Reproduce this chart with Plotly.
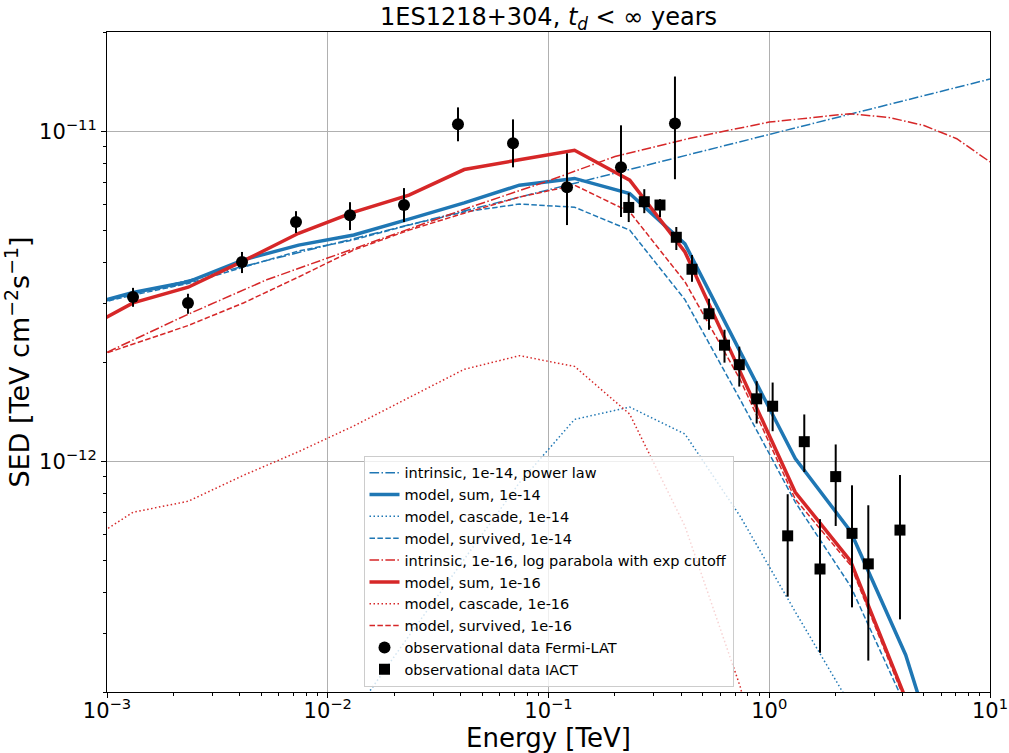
import plotly.graph_objects as go

# ---------------- data ----------------
# model energy grid [TeV]
model_E = [7.38e-4, 1.312e-3, 2.333e-3, 4.15e-3, 7.38e-3, 1.312e-2, 2.333e-2, 4.15e-2,
           7.38e-2, 0.1312, 0.2333, 0.415, 0.738, 1.312, 2.333, 4.15, 7.38]

sum_14 = [2.92e-12, 3.25e-12, 3.50e-12, 4.08e-12, 4.52e-12, 4.85e-12, 5.42e-12, 6.07e-12,
          6.87e-12, 7.20e-12, 6.48e-12, 4.56e-12, 2.15e-12, 1.02e-12, 6.14e-13, 2.59e-13, 7.6e-14]
surv_14 = [2.91e-12, 3.19e-12, 3.46e-12, 3.88e-12, 4.34e-12, 4.69e-12, 5.20e-12, 5.70e-12,
           6.02e-12, 5.89e-12, 5.02e-12, 3.09e-12, 1.54e-12, 7.52e-13, 4.19e-13, 1.81e-13, 6.27e-14]
casc_14_E = [7.38e-3, 1.312e-2, 2.333e-2, 4.15e-2, 7.38e-2, 0.1312, 0.2333, 0.415, 0.738,
             1.312, 2.333, 4.15]
casc_14 = [7.7e-14, 1.72e-13, 2.96e-13, 5.06e-13, 8.61e-13, 1.34e-12, 1.46e-12, 1.21e-12,
           6.82e-13, 3.50e-13, 1.84e-13, 9.5e-14]

sum_16 = [2.45e-12, 3.02e-12, 3.37e-12, 4.05e-12, 4.91e-12, 5.69e-12, 6.41e-12, 7.66e-12,
          8.20e-12, 8.76e-12, 7.11e-12, 4.31e-12, 1.87e-12, 8.06e-13, 4.99e-13, 1.91e-13, 5.46e-14]
surv_16 = [1.99e-12, 2.26e-12, 2.58e-12, 3.02e-12, 3.62e-12, 4.37e-12, 5.02e-12, 5.65e-12,
           6.32e-12, 6.87e-12, 5.70e-12, 3.50e-12, 1.77e-12, 7.68e-13, 4.85e-13, 1.86e-13, 5.09e-14]
casc_16_E = [7.38e-4, 1.312e-3, 2.333e-3, 4.15e-3, 7.38e-3, 1.312e-2, 2.333e-2, 4.15e-2,
             7.38e-2, 0.1312, 0.2333, 0.415, 0.738, 1.312]
casc_16 = [5.47e-13, 7.01e-13, 7.57e-13, 9.07e-13, 1.07e-12, 1.28e-12, 1.56e-12, 1.90e-12,
           2.09e-12, 1.94e-12, 1.39e-12, 6.36e-13, 2.08e-13, 4.75e-14]

# intrinsic spectra
intr_14_E = [1e-3, 1e-2, 0.1, 1.0, 10.0]
intr_14 = [3.07e-12, 4.52e-12, 6.65e-12, 9.80e-12, 1.44e-11]
intr_16_E = [1e-3, 2.30e-3, 5.29e-3, 1.26e-2, 4.26e-2, 0.1, 0.2, 0.4375, 1.0, 2.32,
             3.52, 4.99, 7.07, 10.0]
intr_16 = [2.14e-12, 2.78e-12, 3.55e-12, 4.37e-12, 5.84e-12, 7.08e-12, 8.39e-12, 9.53e-12,
           1.067e-11, 1.131e-11, 1.10e-11, 1.043e-11, 9.50e-12, 8.08e-12]

# observational data Fermi-LAT
fermi_E = [1.312e-3, 2.327e-3, 4.088e-3, 7.18e-3, 1.261e-2, 2.215e-2, 3.89e-2, 6.906e-2,
           0.1213, 0.2130, 0.374]
fermi_F = [3.15e-12, 3.02e-12, 4.02e-12, 5.31e-12, 5.57e-12, 5.98e-12, 1.05e-11, 9.20e-12,
           6.77e-12, 7.78e-12, 1.057e-11]
fermi_lo = [2.94e-12, 2.80e-12, 3.72e-12, 4.92e-12, 5.02e-12, 5.31e-12, 9.33e-12, 7.78e-12,
            5.20e-12, 5.50e-12, 7.16e-12]
fermi_hi = [3.355e-12, 3.22e-12, 4.31e-12, 5.73e-12, 6.10e-12, 6.73e-12, 1.182e-11, 1.087e-11,
            8.58e-12, 1.043e-11, 1.466e-11]

# observational data IACT
iact_E = [0.2309, 0.2716, 0.3199, 0.3793, 0.4467, 0.5333, 0.627, 0.7316, 0.877, 1.036,
          1.212, 1.441, 1.698, 2.0, 2.371, 2.81, 3.91]
iact_F = [5.88e-12, 6.12e-12, 5.98e-12, 4.775e-12, 3.82e-12, 2.80e-12, 2.249e-12, 1.963e-12,
          1.547e-12, 1.469e-12, 5.946e-13, 1.147e-12, 4.718e-13, 8.99e-13, 6.05e-13, 4.89e-13,
          6.19e-13]
iact_lo = [5.31e-12, 5.65e-12, 5.50e-12, 4.37e-12, 3.50e-12, 2.504e-12, 1.991e-12, 1.685e-12,
           1.302e-12, 1.234e-12, 3.89e-13, 9.28e-13, 2.63e-13, 6.37e-13, 3.61e-13, 2.49e-13,
           3.32e-13]
iact_hi = [6.50e-12, 6.68e-12, 6.23e-12, 5.13e-12, 4.22e-12, 3.11e-12, 2.504e-12, 2.226e-12,
           1.749e-12, 1.733e-12, 7.95e-13, 1.387e-12, 6.68e-13, 1.125e-12, 8.46e-13, 7.36e-13,
           9.09e-13]

# tick labels
x_tickvals = [1e-3, 1e-2, 1e-1, 1e0, 1e1]
x_ticktext = ["10<sup>−3</sup>", "10<sup>−2</sup>", "10<sup>−1</sup>", "10<sup>0</sup>", "10<sup>1</sup>"]
y_tickvals = [1e-12, 1e-11]
y_ticktext = ["10<sup>−12</sup>", "10<sup>−11</sup>"]

# ---------------- styles ----------------
BLUE = "#1f77b4"
RED = "#d62728"
FONT = "DejaVu Sans"
thin = 1.5
DASH = "5.5px,2.4px"
DOT = "1.5px,2.5px"
DASHDOT = "9.6px,2.4px,1.5px,2.4px"

fig = go.Figure()

def line(x, y, name, color, width, dash):
    fig.add_trace(go.Scatter(x=x, y=y, mode="lines", name=name,
                             line=dict(color=color, width=width, dash=dash)))

line(intr_14_E, intr_14, "intrinsic, 1e-14, power law", BLUE, thin, DASHDOT)
line(model_E, sum_14, "model, sum, 1e-14", BLUE, 3.5, "solid")
line(casc_14_E, casc_14, "model, cascade, 1e-14", BLUE, thin, DOT)
line(model_E, surv_14, "model, survived, 1e-14", BLUE, thin, DASH)
line(intr_16_E, intr_16, "intrinsic, 1e-16, log parabola with exp cutoff", RED, thin, DASHDOT)
line(model_E, sum_16, "model, sum, 1e-16", RED, 3.5, "solid")
line(casc_16_E, casc_16, "model, cascade, 1e-16", RED, thin, DOT)
line(model_E, surv_16, "model, survived, 1e-16", RED, thin, DASH)

fig.add_trace(go.Scatter(
    x=fermi_E, y=fermi_F, mode="markers", name="observational data Fermi-LAT",
    marker=dict(symbol="circle", size=12, color="black"),
    error_y=dict(type="data", symmetric=False,
                 array=[h - f for h, f in zip(fermi_hi, fermi_F)],
                 arrayminus=[f - l for f, l in zip(fermi_F, fermi_lo)],
                 color="black", thickness=2, width=0)))
fig.add_trace(go.Scatter(
    x=iact_E, y=iact_F, mode="markers", name="observational data IACT",
    marker=dict(symbol="square", size=11, color="black"),
    error_y=dict(type="data", symmetric=False,
                 array=[h - f for h, f in zip(iact_hi, iact_F)],
                 arrayminus=[f - l for f, l in zip(iact_F, iact_lo)],
                 color="black", thickness=2, width=0)))

axis_common = dict(
    type="log", automargin=False, showline=True, mirror=True, linecolor="black", linewidth=1,
    showgrid=True, gridcolor="#b0b0b0", gridwidth=1, zeroline=False,
    ticks="outside", ticklen=5, tickwidth=1, tickcolor="black",
    tickmode="array",
    tickfont=dict(family=FONT, size=21, color="black"),
    minor=dict(ticks="outside", ticklen=3, tickwidth=0.8, tickcolor="black",
               dtick="D1", showgrid=False),
)

fig.update_layout(
    width=1009, height=753,
    margin=dict(l=107, r=19, t=32, b=61),
    paper_bgcolor="white", plot_bgcolor="white",
    font=dict(family=FONT, color="black"),
    title=dict(text="1ES1218+304, <i>t</i><sub><i>d</i></sub> < ∞ years",
               xref="paper", x=0.5, xanchor="center",
               y=1 - 17 / 753, yanchor="middle",
               font=dict(family=FONT, size=24, color="black")),
    xaxis=dict(axis_common, range=[-3, 1], tickvals=x_tickvals, ticktext=x_ticktext,
               ticklabelstandoff=-5),
    yaxis=dict(axis_common, range=[-12.69897, -10.69897],
               tickvals=y_tickvals, ticktext=y_ticktext,
               title=dict(text="SED [TeV cm<sup>−2</sup>s<sup>−1</sup>]",
                          font=dict(family=FONT, size=27), standoff=9)),
    legend=dict(x=0.5, xanchor="center", y=0.008, yanchor="bottom",
                bgcolor="rgba(255,255,255,0.8)", bordercolor="#cccccc", borderwidth=1,
                font=dict(family=FONT, size=14.5, color="black"),
                tracegroupgap=0),
    annotations=[dict(text="Energy [TeV]", xref="paper", yref="paper",
                      x=0.5, y=-(738 - 692) / 660, xanchor="center", yanchor="middle",
                      showarrow=False, font=dict(family=FONT, size=26, color="black"))],
    showlegend=True,
)

fig.write_html("out.html")
